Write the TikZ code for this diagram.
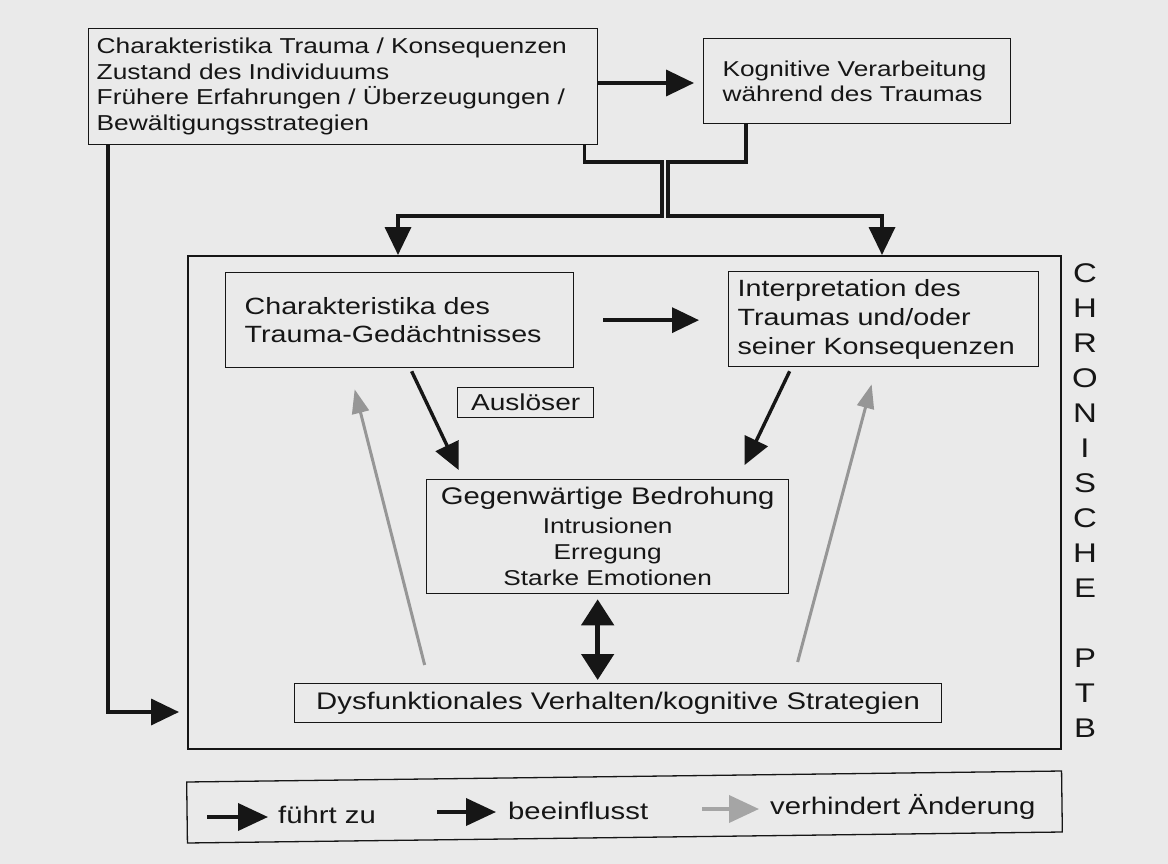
\documentclass[tikz,border=0pt]{standalone}
\usepackage{fontspec}
\setmainfont{Liberation Sans}[FakeStretch=1.22]
\usetikzlibrary{arrows.meta}
\definecolor{bg}{RGB}{234,234,234}
\definecolor{ink}{RGB}{22,22,22}
\definecolor{grayarrow}{RGB}{150,150,150}
\definecolor{graylegend}{RGB}{165,165,165}
\tikzset{
  bx/.style={draw=ink, line width=1.3pt, inner ysep=0pt, anchor=north west, text=ink},
  conn/.style={draw=ink, line width=3.6pt},
  bigtip/.style={-{Triangle[length=28pt,width=26pt]}},
  midtip/.style={draw=ink, line width=3.4pt, -{Triangle[length=27pt,width=25pt]}},
  graytip/.style={draw=grayarrow, line width=3pt, -{Triangle[length=24pt,width=17pt]}},
  dbltip/.style={draw=ink, line width=5pt, {Triangle[length=26pt,width=32pt]}-{Triangle[length=26pt,width=32pt]}},
  legtip/.style={draw=ink, line width=3.8pt, -{Triangle[length=30pt,width=27pt]}},
  leggray/.style={draw=graylegend, line width=3.8pt, -{Triangle[length=30pt,width=27pt]}},
  lbl/.style={anchor=west, inner sep=0pt, text=ink, font=\fontsize{24}{28}\selectfont},
}
\begin{document}
\begin{tikzpicture}[x=1pt,y=-1pt]
\fill[bg] (0,0) rectangle (1168,864);
\useasboundingbox (0,0) rectangle (1168,864);

% top boxes
\node[bx, text width=493pt, inner xsep=8pt, minimum height=116pt, align=left,
      font=\fontsize{21.6}{25.5}\selectfont] (A) at (88,28)
  {Charakteristika Trauma / Konsequenzen\\Zustand des Individuums\\Frühere Erfahrungen / Überzeugungen /\\Bewältigungsstrategien};
\node[bx, text width=269pt, inner xsep=19pt, minimum height=85pt, align=left,
      font=\fontsize{21.5}{25}\selectfont] (K) at (703,38)
  {Kognitive Verarbeitung\\während des Traumas};

% outer box
\node[bx, draw=ink, line width=2pt, inner sep=0pt, minimum width=873pt, minimum height=493pt] (O) at (187,255) {};

% inner boxes
\node[bx, text width=310pt, inner xsep=19pt, minimum height=95pt, align=left,
      font=\fontsize{23.5}{28}\selectfont] (B) at (225,272)
  {Charakteristika des\\Trauma-Gedächtnisses};
\node[bx, text width=292pt, inner xsep=9pt, minimum height=95pt, align=left,
      font=\fontsize{23.5}{29}\selectfont] (C) at (728,271)
  {Interpretation des\\Traumas und/oder\\seiner Konsequenzen};
\node[bx, inner xsep=0pt, minimum width=136pt, minimum height=30pt, align=center,
      font=\fontsize{23}{27}\selectfont] (T) at (457,387) {Auslöser};
\node[bx, inner xsep=0pt, minimum width=362pt, minimum height=114pt, align=center,
      font=\fontsize{21.5}{26}\selectfont] (D) at (426,479)
  {{\fontsize{24}{26}\selectfont Gegenwärtige Bedrohung}\\[3pt]Intrusionen\\Erregung\\Starke Emotionen};
\node[bx, inner xsep=0pt, minimum width=647pt, minimum height=39pt, align=center,
      font=\fontsize{24}{28}\selectfont] (E) at (294,683)
  {Dysfunktionales Verhalten/kognitive Strategien};

% side label
\node[font=\fontsize{27}{35}\selectfont, align=center, inner sep=0pt, text=ink] (chr) at (1085,500.5)
  {C\\H\\R\\O\\N\\I\\S\\C\\H\\E\\[35pt]P\\T\\B};

% legend
\node[draw=ink, line width=1.3pt, inner sep=0pt, minimum width=875pt, minimum height=61pt, rotate=0.72] (L) at (624.5,807) {};
\node[lbl] (t1) at (278,815) {führt zu};
\node[lbl] (t2) at (508,811) {beeinflusst};
\node[lbl] (t3) at (770,807) {verhindert Änderung};
\coordinate (s1) at (207,817);
\coordinate (s2) at (437,812);
\coordinate (s3) at (702,809);
\draw[legtip, shorten >=10pt] (s1) -- (s1 -| t1.west);
\draw[legtip, shorten >=12pt] (s2) -- (s2 -| t2.west);
\draw[leggray, shorten >=11pt] (s3) -- (s3 -| t3.west);

% helper coordinates
\coordinate (ay) at (0,83);
\coordinate (jL1) at (662,162);
\coordinate (jL2) at (662,216);
\coordinate (jR1) at (668,162);
\coordinate (jR2) at (668,216);
\coordinate (xl) at (398,0);
\coordinate (xr) at (882,0);
\coordinate (xk) at (746,0);
\coordinate (ey) at (0,712);

% top connectors
\draw[conn, bigtip, shorten >=9pt] (A.east |- ay) -- (K.west |- ay);
\draw[conn, bigtip, line join=miter] ([xshift=-14pt]A.south east) |- (jL1) -- (jL2) -| (O.north -| xl);
\draw[conn, bigtip, line join=miter] (K.south -| xk) |- (jR1) -- (jR2) -| (O.north -| xr);
\draw[conn, bigtip, line join=miter, shorten >=8pt] ([xshift=20pt]A.south west) |- (O.west |- ey);

% inner arrows
\draw[midtip, shorten <=29pt, shorten >=29pt] (B.east) -- (B.east -| C.west);
\draw[midtip] ([xshift=12pt,yshift=-3pt]B.south) -- ([xshift=-149pt,yshift=9pt]D.north);
\draw[midtip] ([xshift=-94pt,yshift=-4pt]C.south) -- ([xshift=137pt,yshift=14pt]D.north);
\draw[graytip] ([xshift=-193.5pt,yshift=18pt]E.north) -- ([xshift=-45pt,yshift=-21pt]B.south);
\draw[graytip] ([xshift=179.5pt,yshift=21pt]E.north) -- ([xshift=-12pt,yshift=-17pt]C.south);
\draw[dbltip] ([xshift=-10pt,yshift=-5pt]D.south) -- ([xshift=-20.5pt,yshift=3pt]E.north);
\end{tikzpicture}
\end{document}
